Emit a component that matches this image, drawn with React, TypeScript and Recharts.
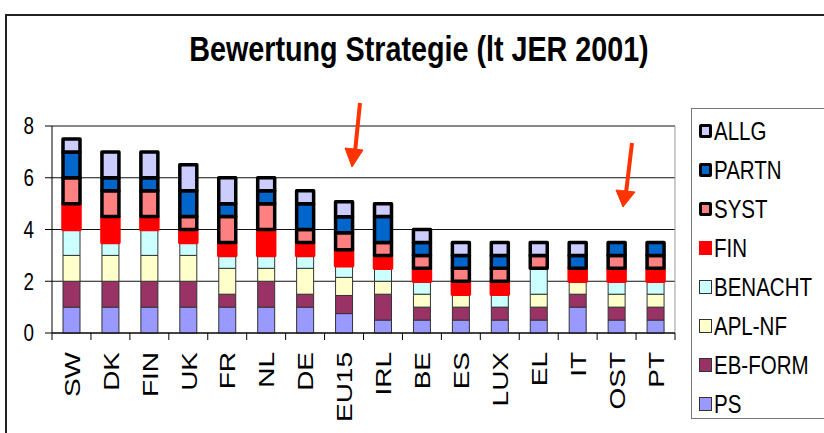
import React from 'react';
import { BarChart, Bar, XAxis, YAxis, CartesianGrid } from 'recharts';

// Länder (x-Achse)
const countries = ['SW', 'DK', 'FIN', 'UK', 'FR', 'NL', 'DE', 'EU15', 'IRL', 'BE', 'ES', 'LUX', 'EL', 'IT', 'OST', 'PT'];

// Werte je Kategorie, von unten nach oben gestapelt
const ps = [1, 1, 1, 1, 1, 1, 1, 0.75, 0.5, 0.5, 0.5, 0.5, 0.5, 1, 0.5, 0.5];
const ebForm = [1, 1, 1, 1, 0.5, 1, 0.5, 0.7, 1, 0.5, 0.5, 0.5, 0.5, 0.5, 0.5, 0.5];
const aplNf = [1, 1, 1, 1, 1, 0.5, 1, 0.7, 0.5, 0.5, 0.5, 0, 0.5, 0.5, 0.5, 0.5];
const benacht = [1, 0.5, 1, 0.5, 0.5, 0.5, 0.5, 0.45, 0.5, 0.5, 0, 0.5, 1, 0, 0.5, 0.5];
const fin = [1, 1, 0.5, 0.5, 0.5, 1, 0.5, 0.62, 0.5, 0.5, 0.5, 0.5, 0, 0.5, 0.5, 0.5];
const syst = [1, 1, 1, 0.5, 1, 1, 0.5, 0.65, 0.5, 0.5, 0.5, 0.5, 0.5, 0, 0.5, 0.5];
const partn = [1, 0.5, 0.5, 1, 0.5, 0.5, 1, 0.62, 1, 0.5, 0.5, 0.5, 0, 0.5, 0.5, 0.5];
const allg = [0.5, 1, 1, 1, 1, 0.5, 0.5, 0.58, 0.5, 0.5, 0.5, 0.5, 0.5, 0.5, 0, 0];

const yTicks = [0, 2, 4, 6, 8];

const seriesValues = [ps, ebForm, aplNf, benacht, fin, syst, partn, allg];

const series = [
  { key: 'ps', name: 'PS', fill: '#9999ff', stroke: '#333', width: 1 },
  { key: 'eb', name: 'EB-FORM', fill: '#993366', stroke: '#333', width: 1 },
  { key: 'apl', name: 'APL-NF', fill: '#ffffcc', stroke: '#333', width: 1 },
  { key: 'ben', name: 'BENACHT', fill: '#ccffff', stroke: '#333', width: 1 },
  { key: 'fin', name: 'FIN', fill: '#ff0000', stroke: '#ff0000', width: 3.5 },
  { key: 'syst', name: 'SYST', fill: '#ff8080', stroke: '#000', width: 3.5 },
  { key: 'partn', name: 'PARTN', fill: '#0066cc', stroke: '#000', width: 3.5 },
  { key: 'allg', name: 'ALLG', fill: '#ccccff', stroke: '#000', width: 3.5 },
];

const data = countries.map((c, i) => {
  const row: Record<string, string | number> = { name: c };
  series.forEach((s, k) => {
    row[s.key] = seriesValues[k][i];
  });
  return row;
});

const W = 824;
const H = 433;
const MARGIN = { top: 126, right: 149, bottom: 0, left: 12 };
const Y_AXIS_W = 40;
const X_AXIS_H = 100;
const PLOT_W = W - MARGIN.left - MARGIN.right - Y_AXIS_W;
const BAND = PLOT_W / countries.length;
const SQ = 0.82; // schmale Schrift
const FONT = '"Liberation Sans", Arial, sans-serif';

const XTick = (props: any) => {
  const { x, y, payload, index } = props;
  return (
    <g transform={`translate(${x},${y})`}>
      <line x1={-BAND / 2} x2={-BAND / 2} y1={0} y2={7} stroke="#000" />
      {index === countries.length - 1 && <line x1={BAND / 2} x2={BAND / 2} y1={0} y2={7} stroke="#000" />}
      <g transform={`scale(${SQ},1)`}>
        <text
          transform="rotate(-90)"
          x={-19}
          y={0}
          dy="0.36em"
          textAnchor="end"
          fontSize={28}
          fontFamily={FONT}
          fill="#000"
        >
          {payload.value}
        </text>
      </g>
    </g>
  );
};

const YTick = (props: any) => {
  const { x, y, payload } = props;
  return (
    <g transform={`translate(${x},${y}) scale(${SQ},1)`}>
      <text x={0} y={0} dy="0.36em" textAnchor="end" fontSize={23} fontFamily={FONT} fill="#000">
        {payload.value}
      </text>
    </g>
  );
};

const rightEdge = (p: any) => [p.offset.left + p.offset.width];

const Legend = () => (
  <div
    style={{
      position: 'absolute',
      left: 691,
      top: 108,
      width: 150,
      height: 311,
      border: '1px solid #777',
      background: '#fff',
      boxSizing: 'border-box',
    }}
  >
    {[...series].reverse().map((s, i) => (
      <div key={s.key} style={{ position: 'absolute', left: 0, top: 21.5 + i * 39.07, height: 0 }}>
        <div
          style={{
            position: 'absolute',
            left: 7,
            top: -7,
            width: 13,
            height: 14,
            background: s.fill,
            border: s.width > 1 ? `3px solid ${s.stroke}` : `1px solid ${s.stroke}`,
            boxSizing: 'border-box',
            borderRadius: s.stroke === '#000' ? 2 : 0,
          }}
        />
        <div
          style={{
            position: 'absolute',
            left: 22,
            top: -15,
            fontSize: 25,
            lineHeight: '30px',
            fontFamily: FONT,
            whiteSpace: 'nowrap',
            transform: `scaleX(${SQ})`,
            transformOrigin: 'left center',
            color: '#000',
          }}
        >
          {s.name}
        </div>
      </div>
    ))}
  </div>
);

const Arrows = () => (
  <svg width={W} height={H} style={{ position: 'absolute', left: 0, top: 0, pointerEvents: 'none' }}>
    <g fill="#ff3300" stroke="#ff3300">
      <line x1={360} y1={103} x2={355} y2={152} strokeWidth={4} />
      <polygon points="345,148 363,150 352,167" strokeWidth={1} />
      <line x1={632} y1={143} x2={626} y2={193} strokeWidth={4} />
      <polygon points="616,190 635,192 623,207" strokeWidth={1} />
    </g>
  </svg>
);

export default function App() {
  return (
    <div
      style={{
        position: 'absolute',
        left: 0,
        top: 0,
        width: W,
        height: H,
        overflow: 'hidden',
        background: '#fff',
        fontFamily: FONT,
      }}
    >
      <div
        style={{
          position: 'absolute',
          left: 5,
          top: 14,
          width: 900,
          height: 500,
          borderLeft: '2px solid #222',
          borderTop: '2px solid #222',
        }}
      />
      <div
        style={{
          position: 'absolute',
          left: 0,
          width: 838,
          top: 31,
          textAlign: 'center',
          fontSize: 35,
          lineHeight: '35px',
          fontWeight: 'bold',
          transform: `scaleX(${SQ})`,
          transformOrigin: '419px 0',
          whiteSpace: 'nowrap',
          color: '#000',
        }}
      >
        Bewertung Strategie (lt JER 2001)
      </div>
      <div style={{ position: 'absolute', left: 0, top: 0 }}>
        <BarChart width={W} height={H} data={data} margin={MARGIN}>
          <CartesianGrid vertical={false} stroke="#111" />
          <CartesianGrid horizontal={false} verticalCoordinatesGenerator={rightEdge} stroke="#999" />
          <XAxis
            dataKey="name"
            height={X_AXIS_H}
            interval={0}
            axisLine={{ stroke: '#000' }}
            tickLine={false}
            tickSize={0}
            tickMargin={0}
            tick={<XTick />}
          />
          <YAxis
            width={Y_AXIS_W}
            domain={[0, 8]}
            ticks={yTicks}
            interval={0}
            axisLine={{ stroke: '#000' }}
            tickLine={{ stroke: '#000' }}
            tickSize={7}
            tickMargin={11}
            tick={<YTick />}
          />
          {series.map((s) => (
            <Bar
              key={s.key}
              dataKey={s.key}
              name={s.name}
              stackId="a"
              fill={s.fill}
              stroke={s.stroke}
              strokeWidth={s.width}
              strokeLinejoin="round"
              barSize={17}
              isAnimationActive={false}
            />
          ))}
        </BarChart>
      </div>
      <Legend />
      <Arrows />
    </div>
  );
}
